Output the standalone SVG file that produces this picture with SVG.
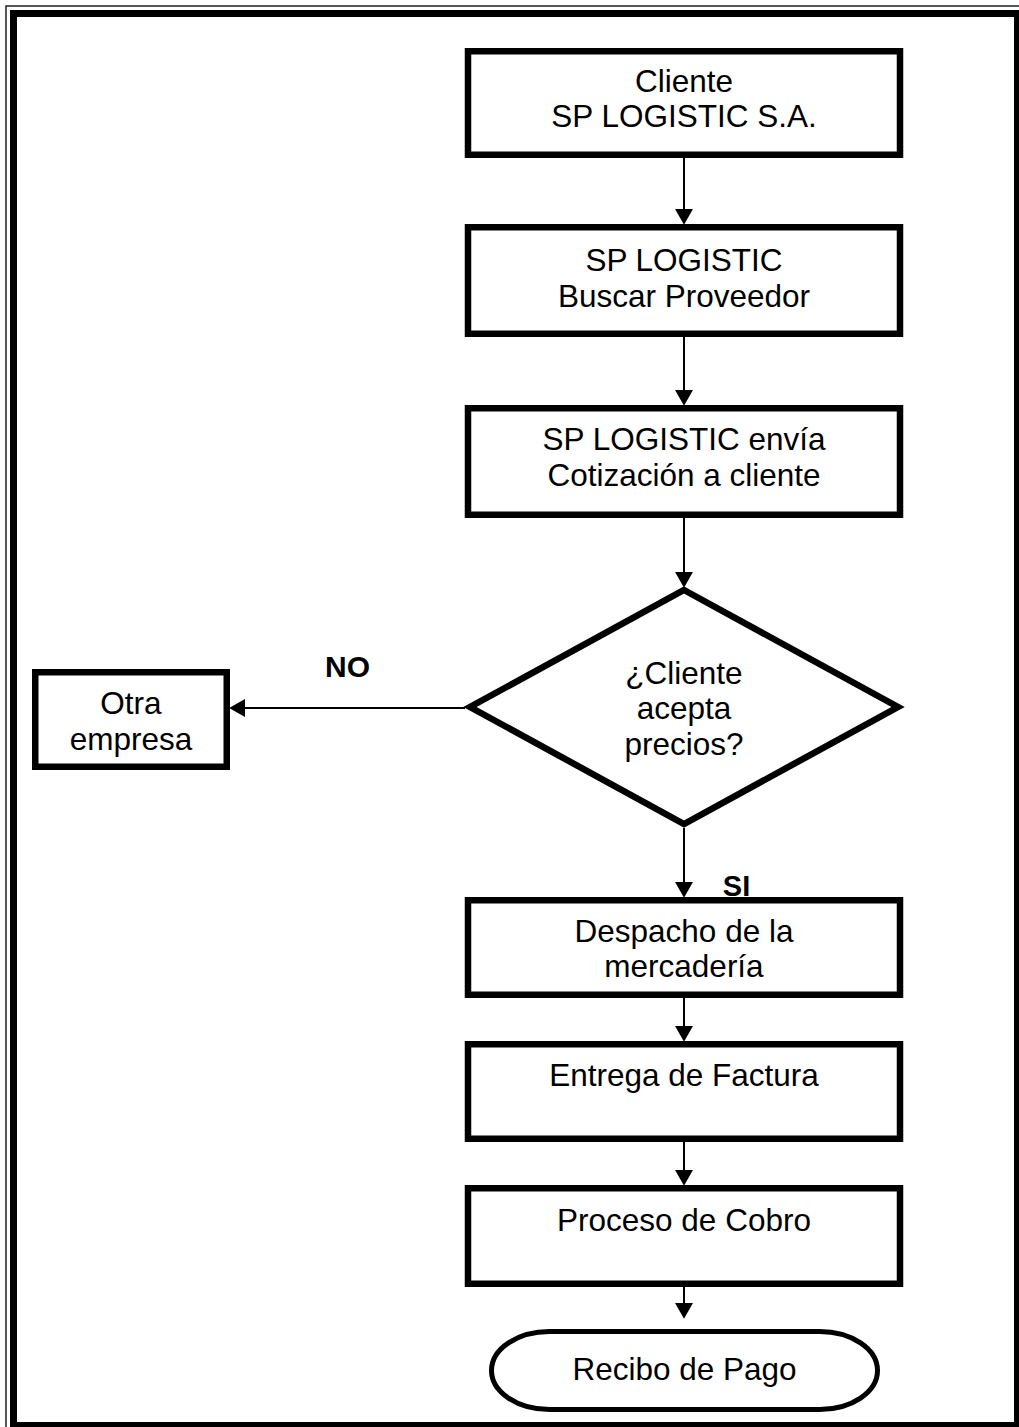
<svg xmlns="http://www.w3.org/2000/svg" width="1019" height="1427" viewBox="0 0 1019 1427">
<style>
.box{fill:#fff;stroke:#000;stroke-width:6.5}
.t{font-family:"Liberation Sans",Arial,sans-serif;font-size:31.5px;fill:#000;text-anchor:middle}
.b{font-family:"Liberation Sans",Arial,sans-serif;font-weight:bold;fill:#000;text-anchor:middle}
.c{fill:none;stroke:#000;stroke-width:2}
</style>
<defs>
<marker id="ah" markerUnits="userSpaceOnUse" markerWidth="16" markerHeight="18" viewBox="0 0 15 17" refX="1" refY="8.5" orient="auto">
<path d="M0,0 L15,8.5 L0,17 z" fill="#000"/>
</marker>
</defs>
<rect x="0" y="0" width="1019" height="1427" fill="#fff"/>
<g id="frame">
<rect x="6" y="6" width="1030" height="1440" fill="none" stroke="#222" stroke-width="1.5"/>
<rect x="13.5" y="13.5" width="1004" height="1412" fill="none" stroke="#000" stroke-width="7"/>
</g>
<g id="connectors">
<line class="c" x1="684" y1="158" x2="684" y2="210" marker-end="url(#ah)"/>
<line class="c" x1="684" y1="337" x2="684" y2="391" marker-end="url(#ah)"/>
<line class="c" x1="684" y1="518" x2="684" y2="573" marker-end="url(#ah)"/>
<line class="c" x1="684" y1="828" x2="684" y2="883" marker-end="url(#ah)"/>
<line class="c" x1="684" y1="998" x2="684" y2="1027" marker-end="url(#ah)"/>
<line class="c" x1="684" y1="1142" x2="684" y2="1171" marker-end="url(#ah)"/>
<line class="c" x1="684" y1="1287" x2="684" y2="1304" marker-end="url(#ah)"/>
<line class="c" x1="465" y1="708" x2="244" y2="708" marker-end="url(#ah)"/>
<text class="b" x="347.5" y="677" font-size="30">NO</text>
<text class="b" x="736.5" y="896" font-size="29">SI</text>
</g>
<g id="n1">
<rect class="box" x="468" y="51.25" width="432" height="103.5"/>
<text class="t" x="684" y="92">Cliente</text>
<text class="t" x="684" y="127">SP LOGISTIC S.A.</text>
</g>
<g id="n2">
<rect class="box" x="468" y="227.25" width="432" height="106.5"/>
<text class="t" x="684" y="271">SP LOGISTIC</text>
<text class="t" x="684" y="306.5">Buscar Proveedor</text>
</g>
<g id="n3">
<rect class="box" x="468" y="408.25" width="432" height="106.5"/>
<text class="t" x="684" y="450">SP LOGISTIC envía</text>
<text class="t" x="684" y="486">Cotización a cliente</text>
</g>
<g id="d1">
<polygon class="box" points="684,590 898,707 684,824 470,707"/>
<text class="t" x="684" y="684">¿Cliente</text>
<text class="t" x="684" y="719">acepta</text>
<text class="t" x="684" y="755">precios?</text>
</g>
<g id="n_otra">
<rect class="box" x="35.25" y="672.25" width="191.5" height="94.5"/>
<text class="t" x="131" y="714">Otra</text>
<text class="t" x="131" y="750">empresa</text>
</g>
<g id="n4">
<rect class="box" x="468" y="900.25" width="432" height="94.5"/>
<text class="t" x="684" y="942">Despacho de la</text>
<text class="t" x="684" y="977">mercadería</text>
</g>
<g id="n5">
<rect class="box" x="468" y="1044.25" width="432" height="94.5"/>
<text class="t" x="684" y="1086">Entrega de Factura</text>
</g>
<g id="n6">
<rect class="box" x="468" y="1188.25" width="432" height="95.5"/>
<text class="t" x="684" y="1231">Proceso de Cobro</text>
</g>
<g id="end">
<rect x="491.5" y="1331.5" width="386" height="78" rx="58" ry="39" fill="#fff" stroke="#000" stroke-width="5"/>
<text class="t" x="684.5" y="1380">Recibo de Pago</text>
</g>
</svg>
